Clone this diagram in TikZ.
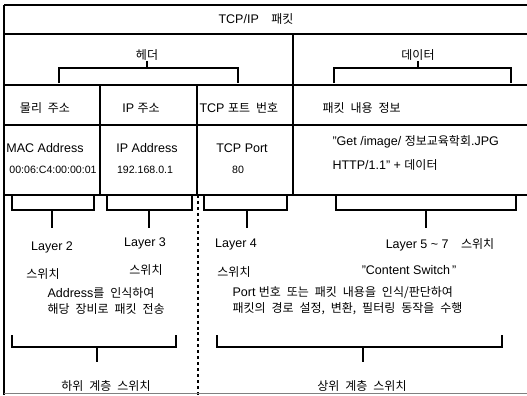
\documentclass[tikz,border=0pt]{standalone}
\usepackage{fontspec}
\setmainfont{Liberation Sans}
\newfontfamily\kr[WordSpace=2.2]{Noto Sans CJK KR}
\newcommand\K[1]{{\kr\fontsize{12bp}{14bp}\selectfont #1}}
\begin{document}
\begin{tikzpicture}[x=1bp,y=-1bp,line width=1.1bp,
  txt/.style={inner sep=0pt,font=\fontsize{12.5bp}{14bp}\selectfont},
  small/.style={inner sep=0pt,font=\fontsize{10.6bp}{12bp}\selectfont},
  brk/.style={line width=1.1bp}]
\useasboundingbox (0,0) rectangle (527,395);
% frame and table lines
\draw (4,5) -- (527,5);
\draw (4,5) -- (4,395);
\draw (4,34) -- (527,34);
\draw (4,85) -- (527,85);
\draw (4,125) -- (527,125);
\draw (4,195) -- (527,195);
\draw (293,34) -- (293,195);
\draw (100,85) -- (100,195);
\draw (197,85) -- (197,195);
\draw[dashed] (198,195) -- (198,395);
\draw[gray,line width=0.6bp] (4,393.5) -- (527,393.5);
% title row
\node[txt] (title) at (256,19) {TCP/IP\quad\K{패킷}};
% header / data
\node[txt] (hdr) at (147,55) {\K{헤더}};
\node[txt] (dat) at (418,55) {\K{데이터}};
\coordinate (hb) at (147,68);
\coordinate (db) at (418,68);
\draw[brk] (59,83) -- (59,68) -- (238,68) -- (238,83);
\draw[brk] (hdr.south) -- (hb);
\draw[brk] (334,83) -- (334,68) -- (511,68) -- (511,83);
\draw[brk] (dat.south) -- (db);
% field names
\node[txt] (phys) at (45,108) {\K{물리 주소}};
\node[txt] (ip) at (141,108) {IP \K{주소}};
\node[txt,anchor=west] (tcp) at (199,108) {TCP \K{포트 번호}};
\node[txt,anchor=west] (pkt) at (322,108) {\K{패킷 내용 정보}};
% field values
\node[txt] (mac) at (45,148) {MAC Address};
\node[small] (macv) at (53,170) {00:06:C4:00:00:01};
\node[txt] (ipa) at (147,148) {IP Address};
\node[small] (ipv) at (145,170) {192.168.0.1};
\node[txt] (tcpp) at (242,148) {TCP Port};
\node[small] (tcpv) at (238,170) {80};
\node[txt,anchor=west] (get) at (332,142) {"Get /image/ \K{정보교육학회}.JPG};
\node[txt,anchor=west] (http) at (332,165) {HTTP/1.1" + \K{데이터}};
% layer brackets
\draw[brk] (12,195) -- (12,210) -- (94,210) -- (94,195);
\draw[brk] (52,210) -- (52,228);
\draw[brk] (107,195) -- (107,210) -- (192,210) -- (192,195);
\draw[brk] (149,210) -- (149,228);
\draw[brk] (204,195) -- (204,210) -- (287,210) -- (287,195);
\draw[brk] (247,210) -- (247,228);
\draw[brk] (336,195) -- (336,210) -- (516,210) -- (516,195);
\draw[brk] (426,210) -- (426,228);
% layers
\node[txt] (l2) at (52,247) {Layer 2};
\node[txt] (l3) at (145,243) {Layer 3};
\node[txt] (l4) at (236,244) {Layer 4};
\node[txt] (l57) at (440,245) {Layer 5 \textasciitilde\ 7\quad\K{스위치}};
\node[txt] (s2) at (43,274) {\K{스위치}};
\node[txt] (s3) at (146,270) {\K{스위치}};
\node[txt] (s4) at (234,272) {\K{스위치}};
\node[txt] (cs) at (409,270) {"Content Switch\,"};
% descriptions
\node[txt,anchor=west] (d1) at (47,293) {Address\K{를 인식하여}};
\node[txt,anchor=west] (d2) at (47,309) {\K{해당 장비로 패킷 전송}};
\node[txt,anchor=west] (d3) at (232,293) {Port \K{번호 또는 패킷 내용을 인식/판단하여}};
\node[txt,anchor=west] (d4) at (232,309) {\K{패킷의 경로 설정, 변환, 필터링 동작을 수행}};
% lower brackets
\draw[brk] (12,335) -- (12,347) -- (176,347) -- (176,335);
\draw[brk] (97,347) -- (97,362);
\draw[brk] (217,335) -- (217,347) -- (502,347) -- (502,335);
\draw[brk] (363,347) -- (363,362);
\node[txt] (low) at (106,386) {\K{하위 계층 스위치}};
\node[txt] (up) at (362,386) {\K{상위 계층 스위치}};
\end{tikzpicture}
\end{document}
